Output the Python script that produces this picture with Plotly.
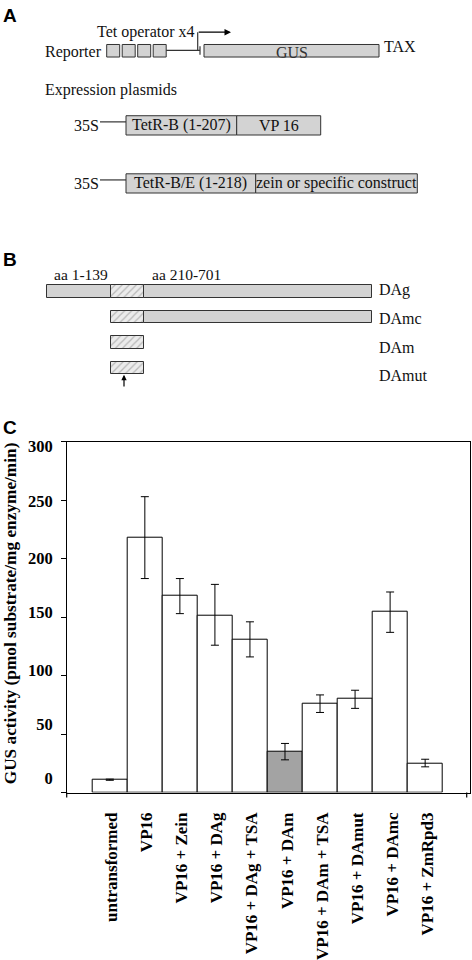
import plotly.graph_objects as go

# ---------------- data ----------------
categories = ["untransformed", "VP16", "VP16 + Zein", "VP16 + DAg", "VP16 + DAg + TSA",
              "VP16 + DAm", "VP16 + DAm + TSA", "VP16 + DAmut", "VP16 + DAmc", "VP16 + ZmRpd3"]
gus_activity = [11, 218, 168, 151, 131, 35, 76, 80, 155, 25]
err_plus = [0.5, 35, 15, 27, 15, 7, 7.5, 7.5, 16.5, 3.5]
err_minus = [0.5, 35, 15, 25, 15, 7, 7.5, 8, 18, 3]
highlight = "VP16 + DAm"
y_ticks = [0, 50, 100, 150, 200, 250, 300]
# the printed tick labels sit slightly off their tick marks in the original
y_label_pos = [12.2, 58.4, 104.4, 154, 200, 249, 295.8]

# panel A: schematic constructs
n_operators = 4
plasmids = [("TetR-B (1-207)", "VP 16"), ("TetR-B/E (1-218)", "zein or specific construct")]

# panel B: domain structure (amino-acid ranges)
protein_length = 701
constructs = ["DAg", "DAmc", "DAm", "DAmut"]
segments = {  # (start aa, end aa, hatched)
    "DAg": [(0, 139, False), (139, 209, True), (209, 701, False)],
    "DAmc": [(139, 209, True), (209, 701, False)],
    "DAm": [(139, 209, True)],
    "DAmut": [(139, 209, True)],
}

W, H = 472, 960
SERIF = "Liberation Serif, Times New Roman, serif"
SANS = "Liberation Sans, Arial, sans-serif"
BOX = "#d3d3d3"
EDGE = "#333333"

fig = go.Figure()

# ---------------- panel C: bar chart ----------------
colors = ["#a3a3a3" if c == highlight else "white" for c in categories]
fig.add_trace(go.Bar(
    x=categories, y=gus_activity, width=1,
    marker=dict(color=colors, line=dict(color="black", width=1)),
    error_y=dict(type="data", array=err_plus, arrayminus=err_minus, symmetric=False,
                 color="black", thickness=1, width=4),
    xaxis="x", yaxis="y", showlegend=False,
))
# invisible trace carrying the (offset) y tick labels axis
fig.add_trace(go.Scatter(x=[categories[0]], y=[0], mode="markers", marker=dict(opacity=0),
                         xaxis="x", yaxis="y3", showlegend=False, hoverinfo="skip"))

# ---------------- panel B: domain bars (aa scale -> pixel overlay) ----------------
aa_x0, aa_x1 = 46.7, 372.3
def aa2px(a):
    return aa_x0 + (aa_x1 - aa_x0) * a / protein_length

rows_y = [289, 314.7, 340, 366]
for hatched in (False, True):
    ys, xs, bases = [], [], []
    for name, yc in zip(constructs, rows_y):
        for s, e, h in segments[name]:
            if h == hatched:
                ys.append(yc)
                bases.append(aa2px(s))
                xs.append(aa2px(e) - aa2px(s))
    marker = dict(color=BOX, line=dict(color=EDGE, width=1))
    if hatched:
        marker = dict(color="#e6e6e6", line=dict(color=EDGE, width=1),
                      pattern=dict(shape="/", bgcolor="#ebebeb", fgcolor="#b8b8b8",
                                   size=5, solidity=0.25, fillmode="replace"))
    fig.add_trace(go.Bar(y=ys, x=xs, base=bases, orientation="h", width=12.7,
                         marker=marker, xaxis="x2", yaxis="y2", showlegend=False,
                         hoverinfo="skip"))

shapes = []
annotations = []

def line(x0, y0, x1, y1, w=1.2, color=EDGE):
    shapes.append(dict(type="line", xref="x2", yref="y2", x0=x0, y0=y0, x1=x1, y1=y1,
                       line=dict(color=color, width=w)))

def rect(x0, y0, x1, y1, fill=BOX):
    shapes.append(dict(type="rect", xref="x2", yref="y2", x0=x0, y0=y0, x1=x1, y1=y1,
                       fillcolor=fill, line=dict(color=EDGE, width=1)))

def text(x, y, s, size=16, xanchor="left", font=SERIF, color="#111", bold=False):
    if bold:
        s = "<b>" + s + "</b>"
    annotations.append(dict(xref="x2", yref="y2", x=x, y=y, text=s, showarrow=False,
                            xanchor=xanchor, yanchor="middle", borderpad=0,
                            font=dict(family=font, size=size, color=color)))

# ---------------- panel A ----------------
text(2, 12, "A", size=19, font=SANS, bold=True, color="black")
text(96, 28.5, "Tet operator x4")
text(44, 48.3, "Reporter")
op_w, op_gap, op_x0 = 13, 2.5, 106.7
for i in range(n_operators):
    x0 = op_x0 + i * (op_w + op_gap)
    rect(x0, 40.7, x0 + op_w, 53.3)
ops_end = op_x0 + n_operators * (op_w + op_gap) - op_gap
line(ops_end, 46.7, 200, 46.7)
line(200, 42.5, 200, 51)
line(197.7, 46.7, 197.7, 28.3)
annotations.append(dict(xref="x2", yref="y2", axref="x2", ayref="y2",
                        x=231, y=28.3, ax=197.2, ay=28.3, text="", showarrow=True,
                        arrowhead=2, arrowsize=1, arrowwidth=1.3, arrowcolor="black"))
rect(204, 40.7, 379, 53.3)
text(291.5, 49, "GUS", xanchor="center", color="#333")
text(383, 42.5, "TAX")
text(44, 86, "Expression plasmids")

plasmid_rows = [(112.3, 131.7, 236.7, 320.7), (170.7, 190, 255.7, 417.3)]
for (left, right), (y0, y1, xdiv, xend) in zip(plasmids, plasmid_rows):
    yc = (y0 + y1) / 2
    text(72.5, yc, "35S")
    line(100, yc - 3.5, 126, yc - 3.5)
    rect(126, y0, xdiv, y1)
    rect(xdiv, y0, xend, y1)
    text((126 + xdiv) / 2, yc, left, xanchor="center")
    text((xdiv + xend) / 2, yc, right, xanchor="center")

# ---------------- panel B labels ----------------
text(2, 256.5, "B", size=19, font=SANS, bold=True, color="black")
text(53, 271.7, "aa 1-139", size=15.5)
text(150.5, 271.7, "aa 210-701", size=15.5)
label_y = [287.3, 315.7, 345, 373.3]
for name, ly in zip(constructs, label_y):
    text(377.5, ly, name)
annotations.append(dict(xref="x2", yref="y2", axref="x2", ayref="y2",
                        x=124, y=372.7, ax=124, ay=386, text="", showarrow=True,
                        arrowhead=2, arrowsize=0.9, arrowwidth=1.2, arrowcolor="black"))
text(2, 426, "C", size=19, font=SANS, bold=True, color="black")

plot_x0, plot_x1 = 66.7, 470
plot_top, plot_bot = 440, 792.7

# small end ticks below the category axis
for xe in (plot_x0, 466.7):
    shapes.append(dict(type="line", xref="paper", yref="paper",
                       x0=xe / W, x1=xe / W, y0=1 - plot_bot / H, y1=1 - (plot_bot + 5) / H,
                       line=dict(color="black", width=1.2)))

# ---------------- y-axis title of panel C ----------------
annotations.append(dict(xref="paper", yref="paper", x=10.5 / W, y=1 - 613 / H,
                        text="<b>GUS activity (pmol substrate/mg enzyme/min)</b>",
                        textangle=-90, showarrow=False, xanchor="center", yanchor="middle",
                        font=dict(family=SERIF, size=17.3, color="black")))

fig.update_layout(
    width=W, height=H,
    margin=dict(l=0, r=0, t=0, b=0),
    paper_bgcolor="white", plot_bgcolor="rgba(0,0,0,0)",
    barmode="overlay", bargap=0,
    shapes=shapes, annotations=annotations,
    xaxis=dict(domain=[plot_x0 / W, plot_x1 / W], type="category",
               range=[-1.23, len(categories) - 1 + 1.28],
               tickvals=categories, ticktext=[f"<b>{c}</b>" for c in categories],
               showline=True, linecolor="black", linewidth=1.2, mirror=True,
               ticks="", showgrid=False, zeroline=False, tickangle=-90,
               tickfont=dict(family=SERIF, size=17, color="black"),
               ticklabelstandoff=12, ticklabelshift=2, anchor="y"),
    yaxis=dict(domain=[1 - plot_bot / H, 1 - plot_top / H], range=[0, 300],
               tickvals=y_ticks, showticklabels=False,
               showline=True, linecolor="black", linewidth=1.2, mirror=True,
               ticks="outside", ticklen=5, tickcolor="black", showgrid=False,
               zeroline=False, anchor="x"),
    yaxis3=dict(overlaying="y", side="left", range=[0, 300],
                tickvals=y_label_pos, ticktext=[f"<b>{t}</b>" for t in y_ticks],
                showline=False, ticks="", showgrid=False, zeroline=False,
                tickfont=dict(family=SERIF, size=16.5, color="black"),
                ticklabelstandoff=13, anchor="x"),
    xaxis2=dict(domain=[0, 1], range=[0, W], visible=False, anchor="y2", fixedrange=True),
    yaxis2=dict(domain=[0, 1], range=[H, 0], visible=False, anchor="x2", fixedrange=True),
)

fig.write_html("out.html", config={"displayModeBar": False},
               post_script="document.body.style.margin='0';"
                           "document.documentElement.style.overflow='hidden';")
